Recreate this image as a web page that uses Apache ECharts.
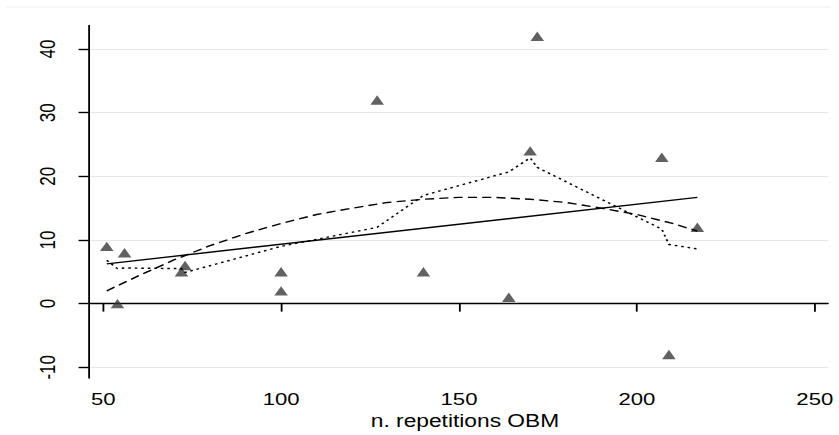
<!DOCTYPE html>
<html>
<head>
<meta charset="utf-8">
<script src="https://cdn.jsdelivr.net/npm/echarts@6/dist/echarts.min.js"></script>
<style>
  html, body { margin: 0; padding: 0; background: #fff; overflow: hidden; }
  /* the reference is stretched horizontally, so the chart is drawn narrower and scaled in x */
  #main { width: 645px; height: 435px; transform: scaleX(1.3008); transform-origin: 0 0; }
</style>
</head>
<body>
<div id="main"></div>
<script>
// observations
var obsX = [51, 54, 56, 72, 73, 100, 100, 127, 140, 164, 170, 172, 207, 209, 217]
var obsY = [9, 0, 8, 5, 6, 5, 2, 32, 5, 1, 24, 42, 23, -8, 12]

// linear fit (solid)
var linX = [51, 217]
var linY = [6.25, 16.7]

// quadratic fit (dashed)
var quadX = [51, 60, 70, 80, 90, 100, 110, 120, 130, 140, 150, 160, 170, 180, 190, 200, 210, 217]
var quadY = [2.0, 4.4, 6.9, 9.1, 11.0, 12.6, 14.0, 15.0, 15.9, 16.4, 16.7, 16.7, 16.4, 15.9, 15.0, 14.0, 12.6, 11.4]

// lowess (dotted)
var lowX = [51, 54, 56, 72, 73, 100, 127, 140, 164, 170, 172, 207, 209, 217]
var lowY = [6.8, 5.5, 5.6, 5.5, 4.9, 9.0, 12.0, 17.0, 20.7, 22.9, 21.4, 11.7, 9.3, 8.6]

var xTicks = [50, 100, 150, 200, 250]
var yTicks = [-10, 0, 10, 20, 30, 40]
var xTitle = 'n. repetitions OBM'

function pairs (xs, ys) {
  return xs.map(function (x, i) { return [x, ys[i]] })
}

var font = '"Liberation Sans", Arial, sans-serif'
var chart = echarts.init(document.getElementById('main'), null, { renderer: 'svg' })
chart.setOption({
  animation: false,
  backgroundColor: '#fff',
  grid: {
    left: 68.4,
    top: 25.5,
    width: 568.1,
    height: 357.2
  },
  graphic: [{
    // faint outer border line of the graph region
    type: 'line',
    shape: { x1: 4.6, y1: 7, x2: 638, y2: 7 },
    style: { stroke: '#eeeeee', lineWidth: 1 }
  }],
  xAxis: {
    type: 'value',
    min: 46,
    max: 253.7,
    name: xTitle,
    nameLocation: 'middle',
    nameGap: 31,
    nameTextStyle: {
      color: '#000',
      fontSize: 17.5,
      fontFamily: font,
      padding: [0, 0, 0, 10]
    },
    axisLine: { lineStyle: { color: '#000', width: 1.4 } },
    axisTick: {
      customValues: xTicks,
      length: 8,
      lineStyle: { color: '#000', width: 1.4 }
    },
    axisLabel: {
      customValues: xTicks,
      margin: 12,
      color: '#000',
      fontSize: 17,
      fontFamily: font
    },
    splitLine: { show: false }
  },
  yAxis: {
    type: 'value',
    min: -11.7,
    max: 43.7,
    axisLine: { show: true, lineStyle: { color: '#000', width: 1.4 } },
    axisTick: {
      show: true,
      customValues: yTicks,
      length: 8,
      lineStyle: { color: '#000', width: 1.4 }
    },
    axisLabel: {
      customValues: yTicks,
      rotate: 90,
      margin: 24,
      color: '#000',
      fontSize: 17,
      fontFamily: font
    },
    splitLine: {
      show: true,
      lineStyle: { color: '#e6e6e6', width: 1.2 }
    }
  },
  series: [{
    type: 'scatter',
    symbol: 'triangle',
    symbolSize: [10.4, 9.4],
    itemStyle: { color: '#3a3a3a' },
    data: pairs(obsX, obsY)
  },
  {
    type: 'line',
    showSymbol: false,
    lineStyle: { color: '#000', width: 1.4 },
    data: pairs(linX, linY)
  },
  {
    type: 'line',
    showSymbol: false,
    lineStyle: { color: '#000', width: 1.4, type: [7, 4] },
    data: pairs(quadX, quadY)
  },
  {
    type: 'line',
    showSymbol: false,
    lineStyle: { color: '#000', width: 1.4, type: [2, 3] },
    data: pairs(lowX, lowY)
  }]
})
</script>
</body>
</html>
